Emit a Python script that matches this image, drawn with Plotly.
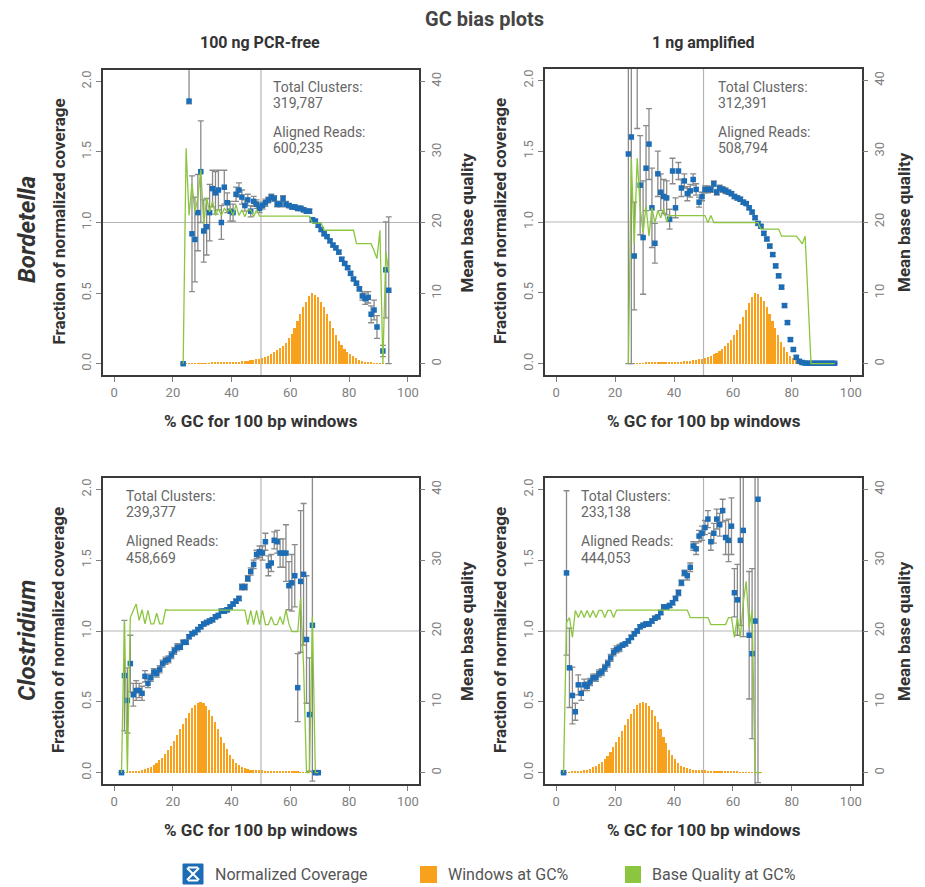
import plotly.graph_objects as go

W, H = 925, 887
OFF = 8  # default page body margin
FW, FH = W - OFF, H - OFF

# ---------------- data ----------------
# GC% bin centres per panel
p1_gc = [k + 0.5 for k in range(23, 94)]
p2_gc = [k + 0.5 for k in range(24, 95)]
p3_gc = [k + 0.5 for k in range(2, 70)]
p4_gc = [k + 0.5 for k in range(2, 70)]

# Panel 1: Bordetella, 100 ng PCR-free
p1_cov = [0.0, None, 1.86, 0.92, 0.88, 1.07, 1.36, 0.94, 0.97, 1.07,
          1.24, 1.21, 1.23, 1.00, 1.25, 1.14, 1.08, 1.07, 1.20, 1.23,
          1.18, 1.12, 1.16, 1.08, 1.15, 1.13, 1.10, 1.12, 1.14, 1.16,
          1.18, 1.17, 1.13, 1.13, 1.17, 1.13, 1.12, 1.11, 1.11, 1.10,
          1.10, 1.09, 1.08, 1.08, 1.02, 1.01, 0.98, 0.95, 0.92, 0.90,
          0.87, 0.84, 0.82, 0.79, 0.74, 0.71, 0.68, 0.64, 0.60, 0.57,
          0.53, 0.48, 0.46, 0.47, 0.35, 0.38, 0.26, None, 0.09, 0.665,
          0.52]
p1_err = [0, 0, 0.6, 0.41, 0.3, 0.27, 0.36, 0.22, 0.2, 0.2,
          0.13, 0.15, 0.14, 0.12, 0.12, 0.07, 0.07, 0.06, 0.05, 0.05,
          0.05, 0.04, 0.04, 0.04, 0.035, 0.03, 0.03, 0.025, 0.025, 0.02,
          0.02, 0.02, 0.02, 0.02, 0.02, 0.02, 0.015, 0.015, 0.015, 0.015,
          0.015, 0.015, 0.015, 0.015, 0.012, 0.012, 0.012, 0.012, 0.012, 0.012,
          0.012, 0.012, 0.012, 0.012, 0.012, 0.012, 0.012, 0.012, 0.012, 0.012,
          0.012, 0.03, 0.04, 0.04, 0.06, 0.07, 0.08, 0, 0.04, 0.34,
          0.52]
p1_err_lo = [0, 0, 0.02, 0.41, 0.3, 0.27, 0.36, 0.22, 0.2, 0.2,
             0.13, 0.15, 0.14, 0.12, 0.12, 0.07, 0.07, 0.06, 0.05, 0.05,
             0.05, 0.04, 0.04, 0.04, 0.035, 0.03, 0.03, 0.025, 0.025, 0.02,
             0.02, 0.02, 0.02, 0.02, 0.02, 0.02, 0.015, 0.015, 0.015, 0.015,
             0.015, 0.015, 0.015, 0.015, 0.012, 0.012, 0.012, 0.012, 0.012, 0.012,
             0.012, 0.012, 0.012, 0.012, 0.012, 0.012, 0.012, 0.012, 0.012, 0.012,
             0.012, 0.03, 0.04, 0.04, 0.06, 0.07, 0.08, 0, 0.04, 0.34,
             0.52]
p1_win = [0.004, 0.003, 0.003, 0.003, 0.004, 0.004, 0.004, 0.005, 0.005, 0.005,
          0.006, 0.006, 0.007, 0.007, 0.008, 0.009, 0.010, 0.011, 0.012, 0.014,
          0.016, 0.018, 0.020, 0.023, 0.027, 0.031, 0.036, 0.042, 0.049, 0.057,
          0.068, 0.080, 0.095, 0.110, 0.128, 0.150, 0.180, 0.210, 0.250, 0.300,
          0.350, 0.400, 0.440, 0.480, 0.500, 0.490, 0.470, 0.440, 0.400, 0.350,
          0.300, 0.250, 0.200, 0.160, 0.130, 0.105, 0.085, 0.068, 0.053, 0.040,
          0.028, 0.020, 0.014, 0.010, 0.007, 0.005, 0.004, 0.003, 0.002, 0.002,
          0.002]
p1_qual = [0, 30.5, 21, 25.5, 21.5, 23.5, 27.5, 19.8, 23.5, 21.5,
           23, 21, 22, 21, 22, 21.5, 22, 21, 22.5, 21,
           21.8, 20.8, 21.8, 21.8, 20.8, 21.8, 20.9, 20.9, 20.9, 20.9,
           20.9, 20.9, 20.9, 20.9, 20.9, 20.9, 20.9, 20.9, 20.9, 20.9,
           20.9, 20.9, 20.9, 20.9, 19.9, 19.9, 19.9, 19.9, 18.9, 18.9,
           18.9, 18.9, 18.9, 18.9, 18.9, 18.9, 18.9, 18.9, 18.9, 17.0,
           17.0, 17.0, 17.0, 17.0, 17.0, 16.0, 14.9, 18.9, 0, 15.8,
           13.0]

# Panel 2: Bordetella, 1 ng amplified
p2_cov = [1.48, 1.60, 0.76, 2.20, 1.26, 0.89, 1.38, 1.55, 1.10, 0.85,
          1.34, 1.21, 1.18, 1.17, 1.02, 1.36, 1.10, 1.36, 1.24, 1.29,
          1.20, 1.22, 1.30, 1.23, 1.14, 1.18, 1.23, 1.23, 1.23, 1.27,
          1.21, 1.24, 1.23, 1.22, 1.21, 1.20, 1.18, 1.17, 1.16, 1.14,
          1.13, 1.10, 1.07, 1.03, 0.99, 0.97, 0.92, 0.88, 0.83, 0.77,
          0.69, 0.62, 0.54, 0.41, 0.29, 0.17, 0.10, 0.045, 0.017, 0.008,
          0.004, 0.003, 0.003, 0.003, 0.003, 0.003, 0.003, 0.003, 0.003, 0.003,
          0.003]
p2_err = [1.0, 1.0, 0.38, 0.54, 0.35, 0.4, 0.3, 0.25, 0.28, 0.14,
          0.16, 0.13, 0.12, 0.12, 0.07, 0.09, 0.07, 0.06, 0.06, 0.05,
          0.05, 0.045, 0.04, 0.04, 0.035, 0.03, 0.025, 0.025, 0.02, 0.02,
          0.02, 0.02, 0.02, 0.02, 0.015, 0.015, 0.015, 0.015, 0.015, 0.015,
          0.012, 0.012, 0.012, 0.012, 0.012, 0.012, 0.012, 0.012, 0.012, 0.012,
          0.012, 0.012, 0.012, 0.012, 0.012, 0.012, 0.012, 0.012, 0.012, 0.012,
          0.005, 0.005, 0.005, 0.005, 0.005, 0.005, 0.005, 0.005, 0.005, 0.005,
          0.005]
p2_err_lo = [1.48, 1.6, 0.38, 0.54, 0.35, 0.4, 0.3, 0.25, 0.28, 0.14,
             0.16, 0.13, 0.12, 0.12, 0.07, 0.09, 0.07, 0.06, 0.06, 0.05,
             0.05, 0.045, 0.04, 0.04, 0.035, 0.03, 0.025, 0.025, 0.02, 0.02,
             0.02, 0.02, 0.02, 0.02, 0.015, 0.015, 0.015, 0.015, 0.015, 0.015,
             0.012, 0.012, 0.012, 0.012, 0.012, 0.012, 0.012, 0.012, 0.012, 0.012,
             0.012, 0.012, 0.012, 0.012, 0.012, 0.012, 0.012, 0.012, 0.012, 0.012,
             0.005, 0.005, 0.005, 0.005, 0.005, 0.005, 0.005, 0.005, 0.005, 0.005,
             0.005]
p2_win = [0.003, 0.003, 0.003, 0.004, 0.004, 0.004, 0.005, 0.005, 0.005, 0.006,
          0.006, 0.007, 0.007, 0.008, 0.009, 0.010, 0.012, 0.013, 0.015, 0.017,
          0.019, 0.021, 0.023, 0.026, 0.030, 0.035, 0.040, 0.047, 0.055, 0.065,
          0.077, 0.090, 0.105, 0.125, 0.145, 0.170, 0.200, 0.240, 0.280, 0.330,
          0.380, 0.430, 0.470, 0.500, 0.490, 0.470, 0.440, 0.400, 0.350, 0.300,
          0.250, 0.200, 0.155, 0.115, 0.080, 0.055, 0.037, 0.024, 0.015, 0.009,
          0.005, 0.003, 0.002, 0.002, 0.002, 0.002, 0.002, 0.002, 0.002, 0.002,
          0.002]
p2_qual = [0, 28.9, 17, 29, 22, 18.5, 22.3, 18, 22, 19.9,
           21.6, 20.6, 21.9, 20, 20.9, 20.9, 20.9, 20.9, 20.9, 20.9,
           20.9, 20.9, 20.9, 20.9, 20.9, 20.9, 20.9, 19.9, 20.9, 19.9,
           19.9, 19.9, 19.9, 19.9, 19.9, 19.9, 19.9, 19.9, 19.9, 19.9,
           19.9, 19.9, 19.9, 19.9, 19.9, 19.0, 19.0, 19.0, 19.0, 19.0,
           19.0, 19.0, 18.0, 18.0, 18.0, 18.0, 18.0, 18.0, 17.5, 16.9,
           18.0, 9.0, 0, 0, 0, 0, 0, 0, 0, 0,
           0]

# Panel 3: Clostridium, 100 ng PCR-free
p3_cov = [0.0, 0.685, 0.51, 0.77, 0.55, 0.58, 0.58, 0.56, 0.68, 0.63,
          0.67, 0.71, 0.70, 0.73, 0.77, 0.79, 0.80, 0.83, 0.86, 0.885,
          0.885, 0.92, 0.92, 0.96, 0.98, 0.99, 1.01, 1.03, 1.05, 1.06,
          1.07, 1.08, 1.10, 1.11, 1.14, 1.14, 1.15, 1.17, 1.19, 1.21,
          1.23, 1.31, 1.31, 1.37, 1.42, 1.47, 1.54, 1.56, 1.55, 1.63,
          1.46, 1.48, 1.64, 1.63, 1.55, 1.55, 1.55, 1.32, 1.34, 1.39,
          0.60, 1.35, 1.40, 0.94, 0.41, 1.04, 0.0, 0.0]
p3_err = [0, 0.39, 0.23, 0.2, 0.08, 0.07, 0.05, 0.05, 0.04, 0.03,
          0.025, 0.025, 0.025, 0.025, 0.025, 0.025, 0.025, 0.025, 0.025, 0.025,
          0.015, 0.015, 0.015, 0.015, 0.015, 0.015, 0.015, 0.015, 0.015, 0.015,
          0.015, 0.015, 0.015, 0.015, 0.015, 0.015, 0.015, 0.015, 0.015, 0.015,
          0.015, 0.02, 0.02, 0.02, 0.025, 0.03, 0.03, 0.04, 0.05, 0.06,
          0.07, 0.06, 0.06, 0.08, 0.1, 0.1, 0.2, 0.17, 0.2, 0.22,
          0.24, 0.5, 0.5, 0.45, 0.4, 1.1, 0, 0]
p3_win = [0.002, 0.003, 0.004, 0.005, 0.007, 0.010, 0.013, 0.018, 0.024, 0.032,
          0.042, 0.055, 0.070, 0.087, 0.107, 0.130, 0.160, 0.190, 0.225, 0.265,
          0.305, 0.345, 0.385, 0.420, 0.455, 0.480, 0.495, 0.500, 0.490, 0.470,
          0.440, 0.400, 0.355, 0.305, 0.255, 0.210, 0.165, 0.127, 0.095, 0.070,
          0.052, 0.040, 0.031, 0.026, 0.022, 0.020, 0.018, 0.017, 0.016, 0.015,
          0.014, 0.013, 0.012, 0.011, 0.010, 0.009, 0.008, 0.008, 0.007, 0.006,
          0.005, 0.004, 0.003, 0.003, 0.002, 0.002, 0.001, 0.001]
p3_qual = [0, 21.5, 0, 21.9, 22.9, 23.8, 21.5, 23.0, 21.0, 22.9,
           21.0, 21.0, 22.5, 21.0, 21.0, 23.0, 22.96, 22.96, 22.96, 22.96,
           22.96, 22.96, 22.96, 22.96, 22.96, 22.96, 22.96, 22.96, 22.96, 22.96,
           22.96, 22.96, 22.96, 22.96, 22.96, 22.96, 22.96, 22.96, 22.96, 22.96,
           22.96, 22.96, 22.96, 20.9, 22.9, 20.9, 22.9, 20.9, 22.9, 20.9,
           20.9, 22.0, 20.9, 20.9, 22.0, 20.9, 23.0, 21.0, 19.9, 19.9,
           19.9, 24.7, 15.0, 0, 0, 22.0, 0, 0]

# Panel 4: Clostridium, 1 ng amplified
p4_cov = [0.0, 1.41, 0.74, 0.545, 0.43, 0.62, 0.56, 0.62, 0.61, 0.64,
          0.67, 0.67, 0.70, 0.71, 0.74, 0.77, 0.81, 0.85, 0.87, 0.88,
          0.90, 0.91, 0.93, 0.955, 0.98, 1.0, 1.03, 1.04, 1.05, 1.05,
          1.07, 1.09, 1.10, 1.13, 1.17, 1.17, 1.18, 1.20, 1.23, 1.27,
          1.34, 1.41, 1.39, 1.45, 1.60, 1.58, 1.67, 1.69, 1.73, 1.79,
          1.63, 1.69, 1.79, 1.75, 1.85, 1.66, 1.64, 1.74, 1.27, 1.22,
          1.64, 1.71, None, 0.97, 0.84, 1.07, 1.93, None]
p4_err = [0, 0.58, 0.28, 0.2, 0.06, 0.07, 0.05, 0.04, 0.03, 0.025,
          0.025, 0.025, 0.025, 0.025, 0.025, 0.025, 0.025, 0.025, 0.025, 0.025,
          0.015, 0.015, 0.015, 0.015, 0.015, 0.015, 0.015, 0.015, 0.015, 0.015,
          0.015, 0.015, 0.015, 0.015, 0.015, 0.015, 0.015, 0.015, 0.015, 0.02,
          0.02, 0.02, 0.03, 0.03, 0.03, 0.04, 0.04, 0.05, 0.05, 0.06,
          0.06, 0.07, 0.07, 0.08, 0.08, 0.12, 0.15, 0.2, 0.17, 0.25,
          0.6, 0.75, 0, 0.45, 0.6, 1.5, 2.0, 0]
p4_win = [0.002, 0.003, 0.004, 0.005, 0.007, 0.009, 0.012, 0.016, 0.021, 0.028,
          0.037, 0.048, 0.062, 0.078, 0.097, 0.120, 0.147, 0.178, 0.213, 0.252,
          0.293, 0.335, 0.377, 0.415, 0.450, 0.477, 0.494, 0.500, 0.492, 0.472,
          0.442, 0.402, 0.355, 0.305, 0.255, 0.207, 0.163, 0.125, 0.093, 0.068,
          0.050, 0.038, 0.030, 0.025, 0.022, 0.020, 0.018, 0.017, 0.016, 0.015,
          0.014, 0.013, 0.012, 0.011, 0.010, 0.009, 0.008, 0.007, 0.006, 0.005,
          0.004, 0.004, 0.003, 0.003, 0.002, 0.002, 0.002, 0.001]
p4_qual = [0, 21.2, 21.9, 19.1, 22.9, 21.9, 22.9, 21.9, 22.9, 21.9,
           22.9, 21.9, 22.9, 22.9, 21.9, 22.9, 22.9, 21.9, 22.96, 22.96,
           22.96, 22.96, 22.96, 22.96, 22.96, 22.96, 22.96, 22.96, 22.96, 22.96,
           22.96, 22.96, 22.96, 22.96, 22.96, 22.96, 22.96, 22.96, 22.96, 22.96,
           22.96, 22.96, 22.96, 21.9, 21.9, 21.9, 21.9, 21.9, 21.9, 21.9,
           20.9, 20.9, 20.9, 20.9, 20.9, 20.9, 21.9, 21.9, 19.1, 21.9,
           19.1, 24.0, 27.0, 20.5, 22.9, 0, 0, 0]

stats_clusters = ["319,787", "312,391", "239,377", "233,138"]
stats_reads = ["600,235", "508,794", "458,669", "444,053"]
col_titles = ["100 ng PCR-free", "1 ng amplified"]
row_titles = ["Bordetella", "Clostridium"]
x_ticks = [0, 20, 40, 60, 80, 100]
y_ticks = [0.0, 0.5, 1.0, 1.5, 2.0]
y_ticktext = ["0.0", "0.5", "1.0", "1.5", "2.0"]
q_ticks = [0, 10, 20, 30, 40]

# ---------------- styling ----------------
BLUE = "#1c6db5"
ORANGE = "#f8a11c"
GREEN = "#8cc63f"
ERRC = "#8a8a8a"
TICKC = "#808080"
FONT = "Roboto"
BOLD = "Roboto"


def px(x):
    return (x - OFF) / FW


def py(y):
    return 1 - (y - OFF) / FH


panels = [
    dict(gc=p1_gc, cov=p1_cov, err=p1_err, err_lo=p1_err_lo, win=p1_win, qual=p1_qual,
         box=(103, 419, 70, 375), stat=(271, 87), qx=467),
    dict(gc=p2_gc, cov=p2_cov, err=p2_err, err_lo=p2_err_lo, win=p2_win, qual=p2_qual,
         box=(545, 862, 69, 375), stat=(716, 87), qx=904),
    dict(gc=p3_gc, cov=p3_cov, err=p3_err, err_lo=p3_err, win=p3_win, qual=p3_qual,
         box=(103, 419, 478, 784), stat=(124, 496), qx=467),
    dict(gc=p4_gc, cov=p4_cov, err=p4_err, err_lo=p4_err, win=p4_win, qual=p4_qual,
         box=(545, 862, 478, 784), stat=(579, 496), qx=904),
]

fig = go.Figure()
layout = dict(
    width=FW, height=FH,
    margin=dict(l=0, r=0, t=0, b=0),
    paper_bgcolor="white", plot_bgcolor="white",
    showlegend=False,
    font=dict(family=FONT, color="#555"),
    bargap=0,
)
shapes = []
annotations = []


def label(text, x, y, size, color="#333", angle=0, family=BOLD, xanchor="center"):
    annotations.append(dict(text=text, x=px(x), y=py(y), xref="paper", yref="paper",
                            xanchor=xanchor, yanchor="middle", showarrow=False, textangle=angle,
                            font=dict(family=family, size=size, color=color)))


for i, p in enumerate(panels):
    n = i + 1
    xa = "x" if n == 1 else f"x{n}"
    ya1 = 2 * n - 1
    ya2 = 2 * n
    y1 = "y" if ya1 == 1 else f"y{ya1}"
    y2 = f"y{ya2}"
    l, r, t, b = p["box"]
    xdom = [px(l), px(r)]
    ydom = [py(b), py(t)]

    axis_common = dict(showgrid=False, zeroline=False, ticks="outside", ticklen=5,
                       tickcolor=TICKC, tickwidth=1,
                       tickfont=dict(family=FONT, size=13, color=TICKC))
    layout["xaxis" if n == 1 else f"xaxis{n}"] = dict(
        domain=xdom, anchor=y1, range=[-3.8, 103.8], tickvals=x_ticks,
        showline=True, linecolor="#3a3a3a", linewidth=1.5, mirror=True,
        **axis_common)
    layout["yaxis" if ya1 == 1 else f"yaxis{ya1}"] = dict(
        domain=ydom, anchor=xa, range=[-0.08, 2.08], tickvals=y_ticks,
        ticktext=y_ticktext, tickangle=-90,
        showline=True, linecolor="#3a3a3a", linewidth=1.5, mirror=True,
        **axis_common)
    layout[f"yaxis{ya2}"] = dict(
        overlaying=y1, anchor=xa, side="right", range=[-1.6, 41.6],
        tickvals=q_ticks, tickangle=-90, showline=False, **axis_common)

    # windows at GC%
    fig.add_trace(go.Bar(x=p["gc"], y=p["win"], width=0.55,
                         marker=dict(color=ORANGE, line=dict(width=0)),
                         xaxis=xa, yaxis=y1, hoverinfo="skip"))
    # normalized coverage
    fig.add_trace(go.Scatter(
        x=p["gc"], y=p["cov"], mode="markers", xaxis=xa, yaxis=y1,
        marker=dict(symbol="square", size=5.5, color=BLUE),
        error_y=dict(type="data", array=p["err"], arrayminus=p["err_lo"], symmetric=False,
                     color=ERRC, thickness=1.3, width=3)))
    # base quality
    fig.add_trace(go.Scatter(x=p["gc"], y=p["qual"], mode="lines", xaxis=xa, yaxis=y2,
                             line=dict(color=GREEN, width=1.3), connectgaps=True))

    # reference lines
    shapes.append(dict(type="line", xref=f"{xa} domain", yref=y1, x0=0, x1=1, y0=1, y1=1,
                       line=dict(color="#b5b5b5", width=1.2), layer="below"))
    shapes.append(dict(type="line", xref=xa, yref=f"{y1} domain", x0=50, x1=50, y0=0, y1=1,
                       line=dict(color="#b5b5b5", width=1.2), layer="below"))

    # stats text
    sx, sy = p["stat"]
    for txt, yy in [("Total Clusters:", sy), (stats_clusters[i], sy + 16.5),
                    ("Aligned Reads:", sy + 45), (stats_reads[i], sy + 61.5)]:
        label(txt, sx, yy, 14, color="#666", family=FONT, xanchor="left")

    # axis titles
    cx = (l + r) / 2
    cy = (t + b) / 2
    label("<b>% GC for 100 bp windows</b>", cx, b + 46, 17)
    label("<b>Fraction of normalized coverage</b>", l - 45, cy - 1, 17, angle=-90)
    label("<b>Mean base quality</b>", p["qx"], cy, 17, angle=-90)

# titles
label("<b>GC bias plots</b>", 484, 19, 20, color="#444")
label(f"<b>{col_titles[0]}</b>", 260, 42, 16)
label(f"<b>{col_titles[1]}</b>", 703, 42, 16)
label(f"<b><i>{row_titles[0]}</i></b>", 27, 230, 24, angle=-90)
label(f"<b><i>{row_titles[1]}</i></b>", 27, 640, 24, angle=-90)

# custom legend
shapes.append(dict(type="rect", xref="paper", yref="paper", x0=px(183), x1=px(203), y0=py(884), y1=py(864),
                   fillcolor=BLUE, line=dict(color=BLUE, width=1)))
for (a0, b0, a1, b1) in [(187, 868, 199, 880), (199, 868, 187, 880), (188, 867.5, 198, 867.5),
                         (188, 880.5, 198, 880.5)]:
    shapes.append(dict(type="line", xref="paper", yref="paper", x0=px(a0), y0=py(b0), x1=px(a1), y1=py(b1),
                       line=dict(color="white", width=2)))
shapes.append(dict(type="rect", xref="paper", yref="paper", x0=px(420), x1=px(437), y0=py(883), y1=py(866),
                   fillcolor=ORANGE, line=dict(width=0)))
shapes.append(dict(type="rect", xref="paper", yref="paper", x0=px(625), x1=px(641), y0=py(883), y1=py(866),
                   fillcolor=GREEN, line=dict(width=0)))
for txt, lx in [("Normalized Coverage", 213), ("Windows at GC%", 446), ("Base Quality at GC%", 650)]:
    label(txt, lx, 874, 16, color="#555", family=FONT, xanchor="left")

layout["shapes"] = shapes
layout["annotations"] = annotations
fig.update_layout(**layout)
fig.write_html("out.html")
